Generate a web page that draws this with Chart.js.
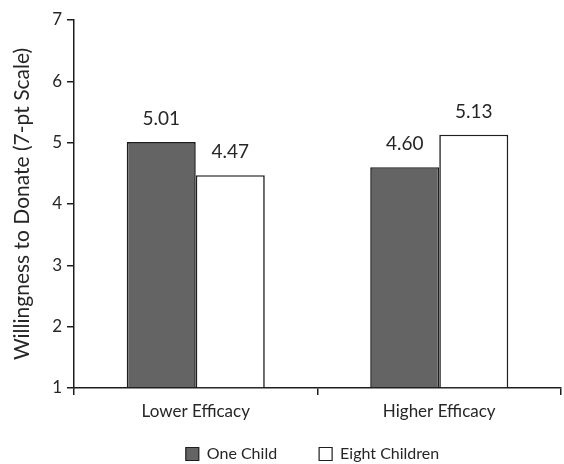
<!DOCTYPE html>
<html>
<head>
<meta charset="utf-8">
<script src="https://cdn.jsdelivr.net/npm/chart.js@4"></script>
<style>
html,body{margin:0;padding:0;background:#fff;}
#wrap{width:564px;height:464px;position:relative;}
</style>
</head>
<body>
<div id="wrap"><canvas id="c"></canvas></div>
<script>
const categories = ["Lower Efficacy", "Higher Efficacy"];
const seriesNames = ["One Child", "Eight Children"];
const oneChild = [5.01, 4.60];
const eightChildren = [4.47, 5.13];
const yTicks = [1, 2, 3, 4, 5, 6, 7];
const yTitle = "Willingness to Donate (7-pt Scale)";

const FONT = "Lato, 'Open Sans', sans-serif";
const TEXT = "#262626";
const LEGEND_SHIFT_X = 32;
const LEGEND_SHIFT_Y = -24;

const valueLabels = {
  id: "valueLabels",
  afterDatasetsDraw(chart) {
    const ctx = chart.ctx;
    ctx.save();
    ctx.font = "19px " + FONT;
    ctx.fillStyle = TEXT;
    ctx.textAlign = "center";
    ctx.textBaseline = "middle";
    chart.data.datasets.forEach((ds, i) => {
      const meta = chart.getDatasetMeta(i);
      meta.data.forEach((el, j) => {
        ctx.fillText(ds.data[j].toFixed(2), el.x, el.y - 23);
      });
    });
    ctx.restore();
  }
};

const legendShift = {
  id: "legendShift",
  afterLayout(chart) {
    const lg = chart.legend;
    if (lg) {
      lg.left += LEGEND_SHIFT_X;
      lg.right += LEGEND_SHIFT_X;
      lg.top += LEGEND_SHIFT_Y;
      lg.bottom += LEGEND_SHIFT_Y;
    }
  }
};

new Chart(document.getElementById("c"), {
  type: "bar",
  data: {
    labels: categories,
    datasets: [
      { label: seriesNames[0], data: oneChild, backgroundColor: "#646464", borderColor: "#1e1e1e", borderWidth: 1.6, base: 1 },
      { label: seriesNames[1], data: eightChildren, backgroundColor: "#ffffff", borderColor: "#1e1e1e", borderWidth: 1.6, base: 1 }
    ]
  },
  options: {
    responsive: true,
    maintainAspectRatio: false,
    animation: false,
    devicePixelRatio: 1,
    layout: { padding: { top: 20, right: 3, left: 0, bottom: -32 } },
    datasets: { bar: { categoryPercentage: 0.567, barPercentage: 1.0 } },
    scales: {
      x: {
        grid: { display: true, drawOnChartArea: false, drawTicks: true, tickLength: 7, offset: true, color: "#1e1e1e", lineWidth: 1.5 },
        border: { display: true, color: "#1e1e1e", width: 1.5 },
        ticks: { color: TEXT, font: { family: FONT, size: 17 }, padding: 6 },
        afterFit(s) { s.height = 40; }
      },
      y: {
        min: 1, max: 7,
        afterBuildTicks(s) { s.ticks = yTicks.map(v => ({ value: v })); },
        grid: { display: true, drawOnChartArea: false, drawTicks: true, tickLength: 7, color: "#1e1e1e", lineWidth: 1.5 },
        border: { display: true, color: "#1e1e1e", width: 1.5 },
        ticks: { color: TEXT, font: { family: FONT, size: 17 }, padding: 5 },
        title: { display: true, text: yTitle, color: TEXT, font: { family: FONT, size: 21 }, padding: { top: 10, bottom: 0 } },
        afterFit(s) { s.width = 74; }
      }
    },
    plugins: {
      legend: {
        position: "bottom",
        labels: {
          color: TEXT,
          font: { family: FONT, size: 16 },
          boxWidth: 13, boxHeight: 13,
          padding: 42,
          generateLabels(chart) {
            return chart.data.datasets.map((ds, i) => ({
              text: ds.label, fillStyle: ds.backgroundColor, strokeStyle: "#1e1e1e", lineWidth: 1.2,
              fontColor: TEXT, datasetIndex: i, hidden: false
            }));
          }
        }
      },
      tooltip: { enabled: false }
    }
  },
  plugins: [valueLabels, legendShift]
});
</script>
</body>
</html>
